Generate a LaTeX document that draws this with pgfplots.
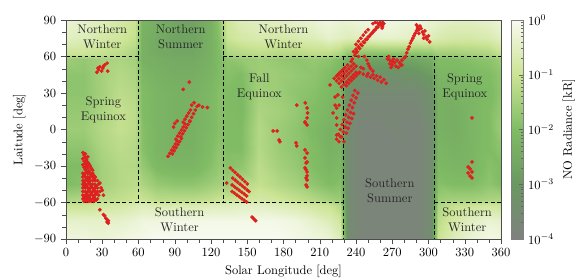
\documentclass[border=0pt]{standalone}
\usepackage{pgfplots}
\pgfplotsset{compat=1.18}
\definecolor{redpt}{RGB}{222,32,32}
\pgfplotsset{colormap={norad}{rgb255(0cm)=(128,128,128) rgb255(1cm)=(106,152,98) rgb255(2cm)=(128,188,100) rgb255(3cm)=(203,228,148) rgb255(4cm)=(248,250,240)}}
\begin{document}
\begin{tikzpicture}
\begin{axis}[name=ax, at={(0,0)}, anchor=south west, scale only axis,
  width=348pt, height=175.2pt,
  xmin=0, xmax=360, ymin=-90, ymax=90,
  xtick={0,30,...,360}, ytick={-90,-60,...,90},
  minor x tick num=2, minor y tick num=2,
  tick align=outside, xtick pos=left, ytick pos=left,
  axis line style={black!70}, tick style={black!70},
  xlabel={Solar Longitude [deg]}, ylabel={Laitude [deg]},
  colormap name=norad, point meta min=-4, point meta max=0,
  axis on top,
  colorbar,
  colorbar style={at={([xshift=11.2pt]parent axis.north east)}, anchor=north west,
    scale only axis, width=9.6pt, height=175.2pt,
    ytick={-4,-3,-2,-1,0},
    yticklabels={$10^{-4}$,$10^{-3}$,$10^{-2}$,$10^{-1}$,$10^{0}$},
    minor ytick={-3.699,-3.523,-3.398,-3.301,-3.222,-3.155,-3.097,-3.046,
      -2.699,-2.523,-2.398,-2.301,-2.222,-2.155,-2.097,-2.046,
      -1.699,-1.523,-1.398,-1.301,-1.222,-1.155,-1.097,-1.046,
      -0.699,-0.523,-0.398,-0.301,-0.222,-0.155,-0.097,-0.046},
    ytick pos=right, yticklabel pos=right, tick align=inside,
    major tick length=4pt, minor tick length=2pt,
    axis line style={black!50}, tick style={black!60},
    ylabel={NO Radiance [kR]}},
]
\addplot[surf, shader=interp, mesh/cols=30, point meta=explicit] coordinates {
(0,-90)[-0.2] (15,-90)[-0.2] (30,-90)[-0.3] (45,-90)[-0.2] (57,-90)[-0.1] (63,-90)[-0.1] (75,-90)[0] (90,-90)[0] (105,-90)[0] (120,-90)[0] (127,-90)[0] (133,-90)[0] (145,-90)[0] (160,-90)[0] (175,-90)[0] (190,-90)[-0.1] (205,-90)[-0.2] (218,-90)[-0.3] (227,-90)[-0.6] (233,-90)[-3.5] (245,-90)[-3.8] (260,-90)[-3.8] (275,-90)[-3.8] (290,-90)[-3.8] (302,-90)[-3.5] (308,-90)[-1.0] (320,-90)[-0.6] (335,-90)[-0.3] (350,-90)[-0.1] (360,-90)[-0.2]
(0,-75)[-0.4] (15,-75)[-0.4] (30,-75)[-0.4] (45,-75)[-0.4] (57,-75)[-0.3] (63,-75)[-0.2] (75,-75)[-0.2] (90,-75)[-0.1] (105,-75)[-0.1] (120,-75)[-0.1] (127,-75)[-0.1] (133,-75)[-0.1] (145,-75)[-0.1] (160,-75)[-0.1] (175,-75)[-0.1] (190,-75)[-0.2] (205,-75)[-0.4] (218,-75)[-0.6] (227,-75)[-0.9] (233,-75)[-3.5] (245,-75)[-3.8] (260,-75)[-3.8] (275,-75)[-3.8] (290,-75)[-3.8] (302,-75)[-3.5] (308,-75)[-1.2] (320,-75)[-0.8] (335,-75)[-0.5] (350,-75)[-0.3] (360,-75)[-0.4]
(0,-62)[-1.0] (15,-62)[-1.0] (30,-62)[-0.9] (45,-62)[-0.8] (57,-62)[-0.7] (63,-62)[-0.6] (75,-62)[-0.7] (90,-62)[-0.7] (105,-62)[-0.7] (120,-62)[-0.6] (127,-62)[-0.6] (133,-62)[-0.6] (145,-62)[-0.5] (160,-62)[-0.5] (175,-62)[-0.6] (190,-62)[-0.7] (205,-62)[-0.9] (218,-62)[-1.0] (227,-62)[-1.3] (233,-62)[-3.5] (245,-62)[-3.8] (260,-62)[-3.8] (275,-62)[-3.8] (290,-62)[-3.8] (302,-62)[-3.5] (308,-62)[-1.4] (320,-62)[-1.1] (335,-62)[-1.0] (350,-62)[-0.9] (360,-62)[-1.0]
(0,-58)[-1.4] (15,-58)[-1.3] (30,-58)[-1.2] (45,-58)[-1.1] (57,-58)[-1.0] (63,-58)[-1.0] (75,-58)[-1.2] (90,-58)[-1.2] (105,-58)[-1.2] (120,-58)[-1.1] (127,-58)[-1.0] (133,-58)[-1.0] (145,-58)[-0.9] (160,-58)[-0.8] (175,-58)[-0.9] (190,-58)[-1.1] (205,-58)[-1.3] (218,-58)[-1.5] (227,-58)[-1.6] (233,-58)[-3.5] (245,-58)[-3.8] (260,-58)[-3.8] (275,-58)[-3.8] (290,-58)[-3.8] (302,-58)[-3.5] (308,-58)[-1.6] (320,-58)[-1.5] (335,-58)[-1.5] (350,-58)[-1.4] (360,-58)[-1.4]
(0,-45)[-2.0] (15,-45)[-1.9] (30,-45)[-1.5] (45,-45)[-1.3] (57,-45)[-1.2] (63,-45)[-1.4] (75,-45)[-1.7] (90,-45)[-1.8] (105,-45)[-1.8] (120,-45)[-1.6] (127,-45)[-1.5] (133,-45)[-1.6] (145,-45)[-1.3] (160,-45)[-1.1] (175,-45)[-1.3] (190,-45)[-1.5] (205,-45)[-1.8] (218,-45)[-2.0] (227,-45)[-1.9] (233,-45)[-3.5] (245,-45)[-3.8] (260,-45)[-3.8] (275,-45)[-3.8] (290,-45)[-3.8] (302,-45)[-3.5] (308,-45)[-1.9] (320,-45)[-2.0] (335,-45)[-2.0] (350,-45)[-1.8] (360,-45)[-2.0]
(0,-30)[-2.0] (15,-30)[-2.0] (30,-30)[-1.5] (45,-30)[-1.3] (57,-30)[-1.3] (63,-30)[-1.7] (75,-30)[-2.1] (90,-30)[-2.2] (105,-30)[-2.2] (120,-30)[-1.9] (127,-30)[-1.7] (133,-30)[-1.9] (145,-30)[-1.8] (160,-30)[-1.2] (175,-30)[-1.5] (190,-30)[-1.7] (205,-30)[-2.0] (218,-30)[-2.2] (227,-30)[-2.1] (233,-30)[-3.5] (245,-30)[-3.8] (260,-30)[-3.8] (275,-30)[-3.8] (290,-30)[-3.8] (302,-30)[-3.5] (308,-30)[-2.1] (320,-30)[-2.2] (335,-30)[-2.2] (350,-30)[-1.9] (360,-30)[-2.0]
(0,-15)[-1.8] (15,-15)[-1.8] (30,-15)[-1.4] (45,-15)[-1.2] (57,-15)[-1.3] (63,-15)[-1.9] (75,-15)[-2.2] (90,-15)[-2.3] (105,-15)[-2.3] (120,-15)[-2.0] (127,-15)[-1.8] (133,-15)[-2.0] (145,-15)[-2.0] (160,-15)[-1.3] (175,-15)[-1.6] (190,-15)[-1.8] (205,-15)[-2.0] (218,-15)[-2.3] (227,-15)[-2.2] (233,-15)[-3.5] (245,-15)[-3.8] (260,-15)[-3.8] (275,-15)[-3.8] (290,-15)[-3.8] (302,-15)[-3.5] (308,-15)[-2.2] (320,-15)[-2.3] (335,-15)[-2.2] (350,-15)[-2.0] (360,-15)[-1.8]
(0,0)[-1.6] (15,0)[-1.6] (30,0)[-1.3] (45,0)[-1.1] (57,0)[-1.2] (63,0)[-1.9] (75,0)[-2.2] (90,0)[-2.3] (105,0)[-2.3] (120,0)[-2.1] (127,0)[-1.9] (133,0)[-2.0] (145,0)[-2.0] (160,0)[-1.3] (175,0)[-1.6] (190,0)[-1.8] (205,0)[-2.1] (218,0)[-2.3] (227,0)[-2.2] (233,0)[-3.5] (245,0)[-3.8] (260,0)[-3.8] (275,0)[-3.7] (290,0)[-3.8] (302,0)[-3.5] (308,0)[-2.3] (320,0)[-2.4] (335,0)[-2.2] (350,0)[-2.0] (360,0)[-1.6]
(0,15)[-1.7] (15,15)[-1.7] (30,15)[-1.4] (45,15)[-1.1] (57,15)[-1.2] (63,15)[-2.0] (75,15)[-2.2] (90,15)[-2.3] (105,15)[-2.3] (120,15)[-2.1] (127,15)[-1.9] (133,15)[-2.0] (145,15)[-2.1] (160,15)[-1.4] (175,15)[-1.5] (190,15)[-1.7] (205,15)[-2.0] (218,15)[-2.2] (227,15)[-2.2] (233,15)[-3.4] (245,15)[-3.7] (260,15)[-3.7] (275,15)[-3.7] (290,15)[-3.7] (302,15)[-3.4] (308,15)[-2.3] (320,15)[-2.4] (335,15)[-2.2] (350,15)[-2.0] (360,15)[-1.7]
(0,30)[-1.8] (15,30)[-1.8] (30,30)[-1.5] (45,30)[-1.2] (57,30)[-1.3] (63,30)[-2.0] (75,30)[-2.2] (90,30)[-2.3] (105,30)[-2.3] (120,30)[-2.1] (127,30)[-1.9] (133,30)[-2.0] (145,30)[-2.1] (160,30)[-1.5] (175,30)[-1.6] (190,30)[-1.8] (205,30)[-1.9] (218,30)[-2.1] (227,30)[-2.2] (233,30)[-3.3] (245,30)[-3.6] (260,30)[-3.6] (275,30)[-3.6] (290,30)[-3.6] (302,30)[-3.3] (308,30)[-2.3] (320,30)[-2.3] (335,30)[-2.2] (350,30)[-2.1] (360,30)[-1.8]
(0,45)[-1.8] (15,45)[-1.8] (30,45)[-1.5] (45,45)[-1.3] (57,45)[-1.4] (63,45)[-2.1] (75,45)[-2.3] (90,45)[-2.4] (105,45)[-2.4] (120,45)[-2.2] (127,45)[-2.0] (133,45)[-1.9] (145,45)[-2.0] (160,45)[-1.6] (175,45)[-1.6] (190,45)[-1.7] (205,45)[-1.8] (218,45)[-2.0] (227,45)[-2.2] (233,45)[-2.9] (245,45)[-3.2] (260,45)[-3.3] (275,45)[-3.3] (290,45)[-3.2] (302,45)[-2.9] (308,45)[-2.2] (320,45)[-2.2] (335,45)[-2.1] (350,45)[-2.0] (360,45)[-1.8]
(0,58)[-1.6] (15,58)[-1.7] (30,58)[-1.5] (45,58)[-1.4] (57,58)[-1.5] (63,58)[-2.3] (75,58)[-2.4] (90,58)[-2.5] (105,58)[-2.5] (120,58)[-2.3] (127,58)[-2.0] (133,58)[-1.8] (145,58)[-1.7] (160,58)[-1.6] (175,58)[-1.7] (190,58)[-1.8] (205,58)[-1.7] (218,58)[-1.8] (227,58)[-2.0] (233,58)[-2.4] (245,58)[-2.6] (260,58)[-2.7] (275,58)[-2.7] (290,58)[-2.6] (302,58)[-2.4] (308,58)[-2.0] (320,58)[-2.0] (335,58)[-1.9] (350,58)[-1.8] (360,58)[-1.6]
(0,62)[-1.0] (15,62)[-1.0] (30,62)[-1.1] (45,62)[-1.2] (57,62)[-1.4] (63,62)[-2.3] (75,62)[-2.5] (90,62)[-2.6] (105,62)[-2.6] (120,62)[-2.3] (127,62)[-2.0] (133,62)[-1.4] (145,62)[-1.3] (160,62)[-1.2] (175,62)[-1.3] (190,62)[-1.3] (205,62)[-1.2] (218,62)[-1.2] (227,62)[-1.4] (233,62)[-1.8] (245,62)[-1.9] (260,62)[-1.9] (275,62)[-1.9] (290,62)[-1.9] (302,62)[-1.8] (308,62)[-1.6] (320,62)[-1.6] (335,62)[-1.5] (350,62)[-1.4] (360,62)[-1.1]
(0,75)[-0.5] (15,75)[-0.6] (30,75)[-0.8] (45,75)[-0.9] (57,75)[-1.1] (63,75)[-2.3] (75,75)[-2.5] (90,75)[-2.7] (105,75)[-2.7] (120,75)[-2.3] (127,75)[-1.9] (133,75)[-1.0] (145,75)[-0.8] (160,75)[-0.7] (175,75)[-0.8] (190,75)[-0.7] (205,75)[-0.6] (218,75)[-0.4] (227,75)[-0.5] (233,75)[-0.6] (245,75)[-0.5] (260,75)[-0.4] (275,75)[-0.4] (290,75)[-0.5] (302,75)[-0.6] (308,75)[-0.7] (320,75)[-0.8] (335,75)[-0.8] (350,75)[-0.7] (360,75)[-0.5]
(0,90)[-0.3] (15,90)[-0.4] (30,90)[-0.6] (45,90)[-0.8] (57,90)[-1.0] (63,90)[-2.2] (75,90)[-2.4] (90,90)[-2.6] (105,90)[-2.7] (120,90)[-2.3] (127,90)[-1.8] (133,90)[-0.9] (145,90)[-0.6] (160,90)[-0.5] (175,90)[-0.5] (190,90)[-0.4] (205,90)[-0.3] (218,90)[-0.2] (227,90)[-0.3] (233,90)[-0.3] (245,90)[-0.2] (260,90)[-0.1] (275,90)[-0.2] (290,90)[-0.2] (302,90)[-0.3] (308,90)[-0.4] (320,90)[-0.5] (335,90)[-0.5] (350,90)[-0.4] (360,90)[-0.3]
};
% season boundaries
\draw[black, line width=0.75pt, dash pattern=on 3pt off 2pt] (axis cs:0,60) -- (axis cs:60,60);
\draw[black, line width=0.75pt, dash pattern=on 3pt off 2pt] (axis cs:60,90) -- (axis cs:60,-60);
\draw[black, line width=0.75pt, dash pattern=on 3pt off 2pt] (axis cs:130,90) -- (axis cs:130,-60);
\draw[black, line width=0.75pt, dash pattern=on 3pt off 2pt] (axis cs:130,60) -- (axis cs:360,60);
\draw[black, line width=0.75pt, dash pattern=on 3pt off 2pt] (axis cs:0,-60) -- (axis cs:230,-60);
\draw[black, line width=0.75pt, dash pattern=on 3pt off 2pt] (axis cs:230,60) -- (axis cs:230,-90);
\draw[black, line width=0.75pt, dash pattern=on 3pt off 2pt] (axis cs:305,60) -- (axis cs:305,-90);
\draw[black, line width=0.75pt, dash pattern=on 3pt off 2pt] (axis cs:305,-60) -- (axis cs:360,-60);
% observations
\addplot[only marks, mark=*, mark size=1.3pt, color=redpt, mark options={draw=none, fill=redpt}] coordinates {
(14,-19) (15,-21) (16,-23) (17,-25) (18,-27) (19,-28.5) (14,-24) (15,-26) (16,-28) (17,-30) (18,-31.5) (20,-30) (21,-32) (22,-33.5) (14,-29) (15,-31) (16,-33) (17,-35) (19,-34) (20,-36) (22,-37) (23,-38) (24,-39.5) (16,-20) (18,-22.5)
(14,-36) (16,-36) (18,-36) (20,-36) (22,-36)
(14,-39) (16,-39) (18,-39) (20,-39) (22,-39) (24,-39)
(14,-42) (16,-42) (18,-42) (20,-42) (22,-42) (24,-42) (26,-42)
(14,-45) (16,-45) (18,-45) (20,-45) (22,-45) (24,-45) (27,-45)
(14,-48) (16,-48) (18,-48) (20,-48) (22,-48) (24,-48) (26,-48) (29,-48)
(14,-51) (16,-51) (18,-51) (20,-51) (22,-51) (24,-51) (26,-51) (28,-51)
(14,-54) (16,-54) (18,-54) (20,-54) (22,-54) (24,-54) (27,-54) (31,-54)
(14,-57) (16,-57) (18,-57) (20,-57) (22,-57) (24,-57) (26,-57)
(15,-59) (17,-59) (19,-59) (21,-59) (23,-59)
(15,-37.5) (17,-40.5) (19,-43.5) (21,-46.5) (23,-49.5) (25,-52.5) (15,-46.5) (17,-52.5) (19,-55.5) (21,-58) (25,-46.5) (23,-40.5) (30,-50) (28,-44)
(15,-43.5) (17,-46.5) (19,-49.5) (21,-52.5) (23,-55.5) (25,-58) (17,-55.5) (19,-40.5) (21,-37.5) (15,-55.5)
(28,-66) (31,-70) (32,-71) (33,-73) (34,-74) (35,-75) (34,-76) (35,-77)
(25.5,47) (26.5,50.5) (28,51.5) (29.5,48) (30.5,50.5) (32,53) (34,54.5) (34.5,48) (27,49) (31,52)
(102,39) (97,33)
(84.5,-22) (86,-19.5) (87.5,-17) (89,-14.5) (90.5,-12) (92,-9.5)
(88,-20) (89.5,-17.5) (91,-15) (92.5,-12.5) (94,-10) (95.5,-7.5)
(89,2) (90,5) (91,-8) (92.5,-5.5) (94,-3) (95.5,-0.5) (97,2) (98.5,4.5)
(95,-6) (96.5,-3.5) (98,-1) (99.5,1.5) (101,4) (102.5,6.5)
(97,6) (98.5,8.5) (100,11) (101.5,13.5) (103,16)
(102.5,7) (104,10) (105.5,13) (107,16) (108.5,19)
(104,20) (110,20) (113,18.5) (117,18) (106,22) (92,7)
(136,-31.6) (138,-33.5) (140,-35.3) (142,-37.2) (144,-39) (146,-40.9) (148,-42.8) (150,-44.7)
(138,-40) (140,-41.6) (142,-43.3) (144,-44.9) (146,-46.5) (148,-48.1) (150,-49.8) (151.5,-51)
(137.5,-45.6) (139.5,-47.1) (141.5,-48.6) (143.5,-50.1) (145.5,-51.6) (147.5,-53.1) (149.5,-54.6)
(137.5,-51) (139.5,-52.4) (141.5,-53.9) (143.5,-55.3) (145.5,-56.8) (147.5,-58.2) (149.5,-59.6)
(133,-44) (154,-72) (155,-73) (156,-74) (157,-75)
(171.4,-1.2) (174.7,-1.2) (176.3,-8.6) (177,-10) (190.4,-11) (191,-13.5) (199.5,-19.3) (198.7,-27.5) (197.8,-31.6) (199.5,-34.9) (199.5,-41.5) (198.7,-45.6) (199.5,-47.2)
(197.8,-16.8) (197.8,-23.4) (199.5,-26.7) (198.7,-33) (199.5,-38) (198.7,-39.8)
(197.8,6.2) (199.5,3.7) (191,20) (198,21.8) (199.5,17.7) (200,13.6) (199.5,9.5) (198,5.4)
(224,3.7) (224,-4.5) (225,44.8) (218.5,36.6) (225,28.4) (222.7,20) (221,13.6) (224,9.5)
(224,40) (226,42) (228,44) (230,46) (232,48) (234,50) (236,52) (238,54)
(226,38) (228,40) (230,42) (232,44) (234,46) (236,48) (238,50) (240,52)
(228,35) (230,37) (232,39) (234,41) (236,43) (238,45) (240,47)
(225,45) (227,47) (229,49) (231,51) (233,53)
(222,42) (224,44) (226,46) (228,48) (230,50)
(232,36) (234,38) (236,40) (238,42) (240,44) (242,46)
(224,-8) (225.5,-4) (227,0) (228.5,4) (230,8) (231.5,12) (233,16) (234.5,20) (236,24) (237.5,28) (239,32)
(228,-6) (229.5,-2) (231,2) (232.5,6) (234,10) (235.5,14) (237,18) (238.5,22) (240,26) (241.5,30)
(232,-3) (233.5,1) (235,5) (236.5,9) (238,13)
(226,-10) (227,-6) (222.7,26.7) (229,26.7) (224,17.7) (226,20) (230,-10)
(247,60) (249,57) (250,54) (251,52) (252,50) (254,48)
(243,47) (246,45.5) (249,44) (252,43) (255,42) (258,40.5) (261,39) (265,38)
(250,46) (254,45) (257,44) (260,43) (263,41) (244,51) (246,50)
(236,56) (237,58) (239,61) (240,63) (242,60)
(238,64) (240,66) (242,68) (244,70) (246,72) (248,74) (250,76) (252,78) (254,80) (256,82) (258,84) (260,86) (262,87)
(241,64) (243,66.5) (245,69) (247,71.5) (249,74) (251,76.5) (253,79) (255,81.5) (257,84) (259,86)
(240,70) (242,72.5) (244,75) (246,77.5) (248,80) (250,82)
(254,87) (256,88) (258,87.5) (260,88) (262,88) (263,87) (262,85) (261.6,83.4)
(266,58) (268,57) (270,56) (272,55) (268,54) (270,53) (273,52) (276,55) (278,57) (280,59) (275,51) (278,53) (267,60) (271,58) (274,57) (277,53) (269,51)
(281,60) (282,63) (283,66) (284,68) (285,71) (286,73) (287,75) (288,77) (289,79) (290,81) (291,83)
(290,86) (291,84.5) (292,82) (293,85) (294,83) (295,80) (296,78) (297,81) (298,76) (299,74) (300,77) (301,72) (292,79) (296,75)
(336,9.5) (336,-26.7) (332.8,-30.8) (334.4,-32.4) (336,-34.9) (332.8,-35.7) (334.4,-38.2) (336,-39.8)
};
% labels
\node[align=center, text=black!85] at (axis cs:30,76) {Northern\\Winter};
\node[align=center, text=black!85] at (axis cs:95,76) {Northern\\Summer};
\node[align=center, text=black!85] at (axis cs:180,76) {Northern\\Winter};
\node[align=center, text=black!85] at (axis cs:31,16) {Spring\\Equinox};
\node[align=center, text=black!85] at (axis cs:160,35) {Fall\\Equinox};
\node[align=center, text=black!85] at (axis cs:330,35) {Spring\\Equinox};
\node[align=center, text=black!85] at (axis cs:94,-74) {Southern\\Winter};
\node[align=center, text=black!85] at (axis cs:268,-50) {Southern\\Summer};
\node[align=center, text=black!85] at (axis cs:332,-74) {Southern\\Winter};
\end{axis}
\pgfresetboundingbox
\path[use as bounding box] (-52.8pt,-32.8pt) rectangle (409.6pt,191.2pt);
\end{tikzpicture}
\end{document}
